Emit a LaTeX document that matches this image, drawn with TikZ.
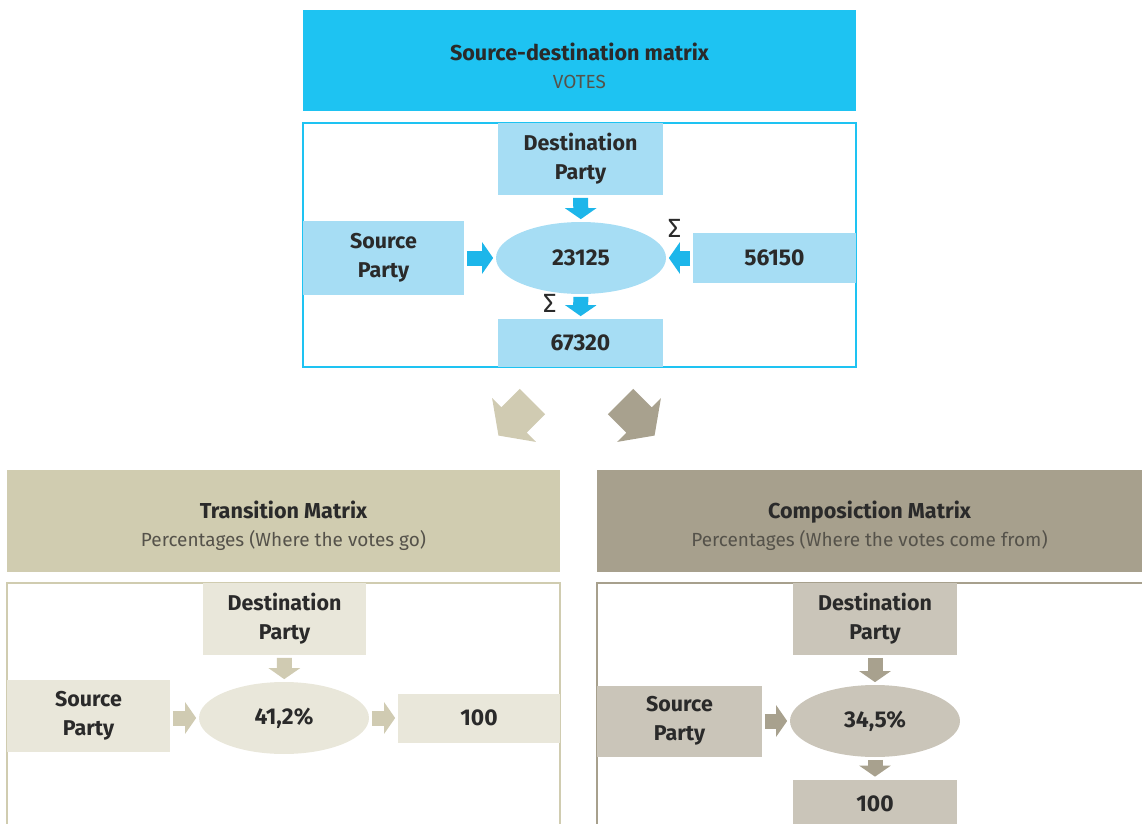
\documentclass[tikz,border=0pt]{standalone}
\usepackage{fontspec}
\setmainfont{Fira Sans}
\usetikzlibrary{arrows.meta, positioning, shapes.geometric}

\definecolor{cyanhead}{HTML}{1EC3F2}
\definecolor{cyanbox}{HTML}{A6DDF4}
\definecolor{cyanarrow}{HTML}{1DB6EA}
\definecolor{khakihead}{HTML}{D0CCB0}
\definecolor{khakibox}{HTML}{E9E7DA}
\definecolor{khakiarrow}{HTML}{D0CBB2}
\definecolor{taupehead}{HTML}{A7A08D}
\definecolor{taupebox}{HTML}{CAC5B9}
\definecolor{taupearrow}{HTML}{A8A18E}
\definecolor{inktext}{HTML}{2A2A2A}
\definecolor{subtext}{HTML}{55524A}

\newcommand{\headtitle}[1]{{\fontsize{12.3}{16}\selectfont\bfseries #1}}

\tikzset{
	headbox/.style={
		inner sep=0pt,
		align=center,
		text=inktext,
		font=\fontsize{10.8}{16}\selectfont
	},
	cell/.style={
		rectangle,
		inner sep=0pt,
		align=center,
		text=inktext,
		font=\fontsize{12.2}{16.5}\selectfont\bfseries
	},
	cellval/.style={
		ellipse,
		inner sep=0pt,
		minimum width=3.4cm,
		minimum height=1.44cm,
		text=inktext,
		font=\fontsize{13}{15}\selectfont\bfseries
	},
	fat/.style={
		line width=0.3cm,
		shorten <=0.05cm,
		shorten >=0.05cm,
		-{Triangle[width=0.62cm,length=0.22cm]}
	},
	sigma/.style={
		inner sep=0pt,
		text=inktext,
		font=\fontsize{15}{15}\selectfont
	}
}

\begin{document}
\begin{tikzpicture}[x=0.02cm, y=0.02cm]
	\useasboundingbox (0,0) rectangle (1142,823);

	\fill[cyanhead] (303,712) rectangle (856,813);
	\node[headbox] (votehead) at (579.5,757) {\headtitle{Source-destination matrix}\\\color{subtext}VOTES};
	\draw[
		color=cyanhead,
		line width=0.6pt
	] (303,456) rectangle (856,700);
	\node[
		cell,
		fill=cyanbox,
		minimum width=3.3cm,
		minimum height=1.44cm
	] (votedest) at (580.5,664) {Destination\\Party};
	\node[
		cellval,
		fill=cyanbox
	] (vote) at (581,565) {23125};
	\node[
		cell,
		fill=cyanbox,
		minimum width=3.22cm,
		minimum height=1.48cm
	] (votesrc) at (383.5,565) {Source\\Party};
	\node[
		cell,
		fill=cyanbox,
		minimum width=3.26cm,
		minimum height=1cm,
		font=\fontsize{13}{15}\selectfont\bfseries
	] (voterow) at (774.5,565) {56150};
	\node[
		cell,
		fill=cyanbox,
		minimum width=3.3cm,
		minimum height=0.96cm,
		font=\fontsize{13}{15}\selectfont\bfseries
	] (votecol) at (580.5,480) {67320};
	\draw[fat, color=cyanarrow] (votedest) -- (vote);
	\draw[fat, color=cyanarrow] (votesrc) -- (vote);
	\draw[fat, color=cyanarrow] (voterow) -- (vote)
		node[sigma, pos=0.5, xshift=-0.1cm, yshift=0.6cm] {Σ};
	\draw[fat, color=cyanarrow] (vote) -- (votecol)
		node[sigma, pos=0.5, xshift=-0.62cm, yshift=0.06cm] {Σ};

	\begin{scope}[shift={(514,403)}, rotate=225]
		\fill[khakiarrow] (-26,-18) -- (0,-18) -- (0,-31) -- (22,0) -- (0,31) -- (0,18) -- (-26,18) -- cycle;
	\end{scope}
	\begin{scope}[shift={(639,403)}, rotate=-45]
		\fill[taupearrow] (-26,-18) -- (0,-18) -- (0,-31) -- (22,0) -- (0,31) -- (0,18) -- (-26,18) -- cycle;
	\end{scope}

	\fill[khakihead] (7,251) rectangle (560,353);
	\node[headbox] (tranhead) at (283.5,297.5) {\headtitle{Transition Matrix}\\\color{subtext}Percentages (Where the votes go)};
	\draw[
		color=khakihead,
		line width=0.8pt
	] (7,-5) -- (7,240) -- (560,240) -- (560,-5);
	\node[
		cell,
		fill=khakibox,
		minimum width=3.26cm,
		minimum height=1.44cm
	] (trandest) at (284.5,204) {Destination\\Party};
	\node[
		cellval,
		fill=khakibox
	] (tran) at (284,105) {41,2\%};
	\node[
		cell,
		fill=khakibox,
		minimum width=3.26cm,
		minimum height=1.44cm
	] (transrc) at (88.5,107) {Source\\Party};
	\node[
		cell,
		fill=khakibox,
		minimum width=3.24cm,
		minimum height=0.98cm,
		font=\fontsize{13}{15}\selectfont\bfseries
	] (tranrow) at (479,105) {100};
	\draw[fat, color=khakiarrow] (trandest) -- (tran);
	\draw[fat, color=khakiarrow] (transrc.east |- tran) -- (tran);
	\draw[fat, color=khakiarrow] (tran) -- (tranrow);

	\fill[taupehead] (597,251) rectangle (1142,353);
	\node[headbox] (comphead) at (869.5,297.5) {\headtitle{Composiction Matrix}\\\color{subtext}Percentages (Where the votes come from)};
	\draw[
		color=taupehead,
		line width=0.8pt
	] (597,-5) -- (597,240) -- (1150,240);
	\node[
		cell,
		fill=taupebox,
		minimum width=3.28cm,
		minimum height=1.44cm
	] (compdest) at (875,204) {Destination\\Party};
	\node[
		cellval,
		fill=taupebox
	] (comp) at (875,102) {34,5\%};
	\node[
		cell,
		fill=taupebox,
		minimum width=3.3cm,
		minimum height=1.42cm
	] (compsrc) at (679.5,102) {Source\\Party};
	\node[
		cell,
		fill=taupebox,
		minimum width=3.28cm,
		minimum height=0.98cm,
		font=\fontsize{13}{15}\selectfont\bfseries
	] (compcol) at (875,19) {100};
	\draw[fat, color=taupearrow] (compdest) -- (comp);
	\draw[fat, color=taupearrow] (compsrc) -- (comp);
	\draw[fat, color=taupearrow] (comp) -- (compcol);
\end{tikzpicture}
\end{document}
